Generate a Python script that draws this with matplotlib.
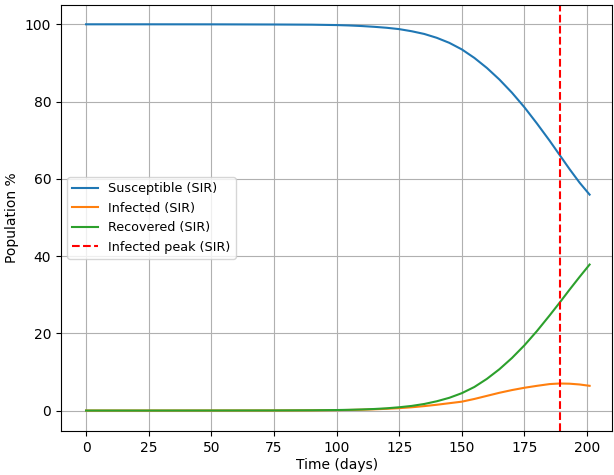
import matplotlib
matplotlib.use("Agg")
import matplotlib.pyplot as plt

t = [0, 25, 50, 75, 90, 100, 105, 110, 115, 120, 125, 130, 135, 140, 145, 150,
     155, 160, 165, 170, 175, 180, 185, 189, 193, 197, 201]
susceptible = [100.0, 100.0, 99.99, 99.95, 99.9, 99.8, 99.7, 99.55, 99.35, 99.1,
               98.75, 98.2, 97.5, 96.5, 95.2, 93.5, 91.3, 88.7, 85.7, 82.3,
               78.5, 74.3, 69.9, 66.2, 62.5, 59.0, 55.9]
infected = [0.0, 0.0, 0.01, 0.02, 0.05, 0.1, 0.15, 0.22, 0.32, 0.45, 0.62,
            0.85, 1.15, 1.5, 1.9, 2.3, 3.0, 3.8, 4.6, 5.3, 5.9, 6.4, 6.85,
            7.0, 6.95, 6.75, 6.4]
recovered = [0.0, 0.0, 0.01, 0.03, 0.07, 0.13, 0.19, 0.28, 0.4, 0.58, 0.85,
             1.2, 1.7, 2.4, 3.3, 4.5, 6.1, 8.2, 10.7, 13.6, 16.9, 20.6,
             24.6, 27.9, 31.3, 34.6, 37.8]
peak_day = 189

fig = plt.figure(figsize=(6.14, 4.75), dpi=100)
ax = fig.add_axes([0.0993, 0.0926, 0.8977, 0.8969])

ax.plot(t, susceptible, color="#1f77b4", lw=1.5, label="Susceptible (SIR)")
ax.plot(t, infected, color="#ff7f0e", lw=1.5, label="Infected (SIR)")
ax.plot(t, recovered, color="#2ca02c", lw=1.5, label="Recovered (SIR)")
ax.axvline(peak_day, color="red", ls="--", lw=1.5, label="Infected peak (SIR)")

ax.set_xlim(-10, 210)
ax.set_ylim(-5.3, 105)
ax.set_xticks([0, 25, 50, 75, 100, 125, 150, 175, 200])
ax.set_yticks([0, 20, 40, 60, 80, 100])
ax.set_xlabel("Time (days)", labelpad=2)
ax.set_ylabel("Population %")
ax.grid(True)
ax.legend(loc="center left", fontsize=9.2)

fig.savefig("out.png", dpi=100)
